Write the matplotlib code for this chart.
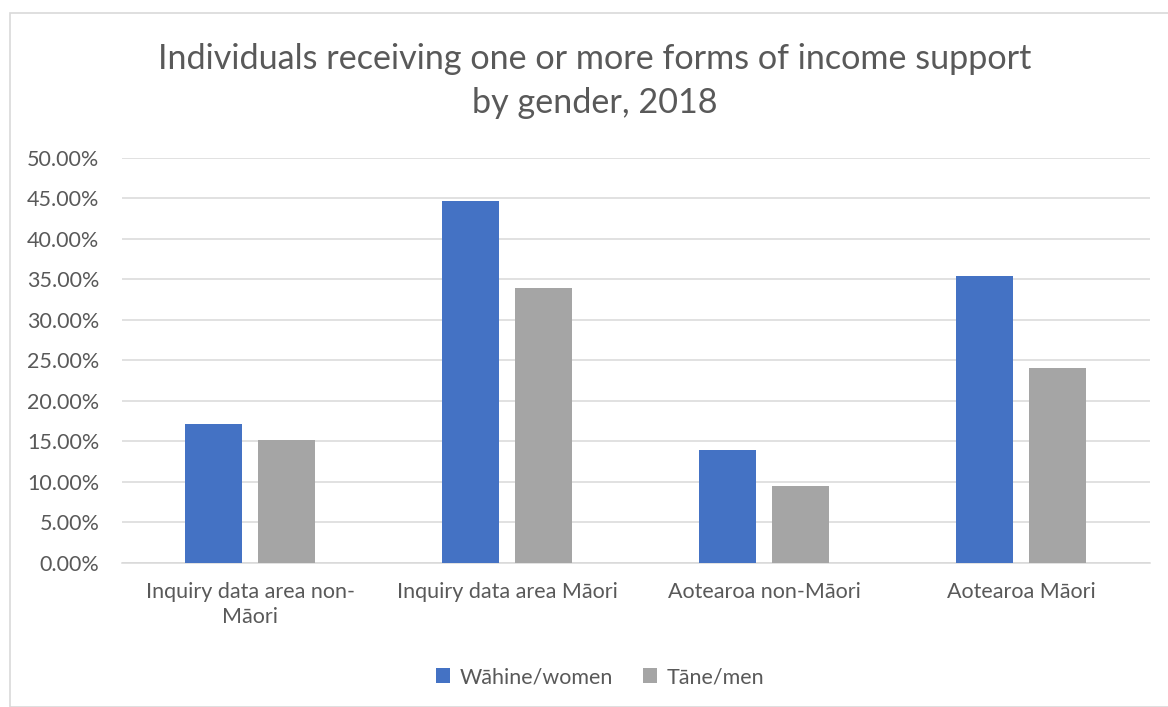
import matplotlib
matplotlib.use("Agg")
import matplotlib.pyplot as plt
import numpy as np
from matplotlib.patches import Rectangle
from matplotlib.ticker import FuncFormatter, MultipleLocator

categories = ["Inquiry data area non-\nMāori", "Inquiry data area Māori",
              "Aotearoa non-Māori", "Aotearoa Māori"]
women = [17.12, 44.73, 13.9, 35.4]
men = [15.22, 33.95, 9.5, 24.1]
series_names = ["Wāhine/women", "Tāne/men"]
title = "Individuals receiving one or more forms of income support\nby gender, 2018"

plt.rcParams['font.family'] = ['Lato', 'DejaVu Sans']
TEXT = "#595959"
FS = 15.5

fig = plt.figure(figsize=(11.68, 7.07), dpi=100)
W, H = 1168, 707

# chart frame
fig.patches.append(Rectangle((10 / W, 0), 1.2, 1 - 13 / H, transform=fig.transFigure,
                             fill=False, edgecolor="#d9d9d9", linewidth=1.2))

ax = fig.add_axes([121.5 / W, 1 - 563 / H, (1150 - 121.5) / W, (563 - 157.8) / H])

x = np.arange(len(categories))
bw = 0.222
off = bw / 2 + 0.031
ax.bar(x - off, women, bw, color="#4472C4", label=series_names[0], zorder=3)
ax.bar(x + off, men, bw, color="#A5A5A5", label=series_names[1], zorder=3)

ax.set_xlim(-0.5, len(categories) - 0.5)
ax.set_ylim(0, 50)
ax.yaxis.set_major_locator(MultipleLocator(5))
ax.yaxis.set_major_formatter(FuncFormatter(lambda v, p: f"{v:.2f}%"))
ax.grid(axis="y", color="#d9d9d9", linewidth=1.1, zorder=0)
for s in ["top", "right", "left"]:
    ax.spines[s].set_visible(False)
ax.spines["bottom"].set_color("#d9d9d9")
ax.spines["bottom"].set_linewidth(1.1)
ax.tick_params(axis="both", length=0, labelsize=FS, labelcolor=TEXT)
ax.tick_params(axis="y", pad=16)
ax.tick_params(axis="x", pad=14)
ax.set_xticks(x)
ax.set_xticklabels(categories, linespacing=1.3)

fig.text(595 / W, 1 - 81 / H, title, ha="center", va="center", fontsize=24.6,
         color=TEXT, linespacing=1.45)

leg = fig.legend(loc="center", bbox_to_anchor=(600 / W, 1 - 677 / H), ncol=2,
                 frameon=False, fontsize=FS, handlelength=0.65, handleheight=0.65,
                 handletextpad=0.45, columnspacing=1.4)
for t in leg.get_texts():
    t.set_color(TEXT)

fig.savefig("out.png", dpi=100, facecolor="white")
